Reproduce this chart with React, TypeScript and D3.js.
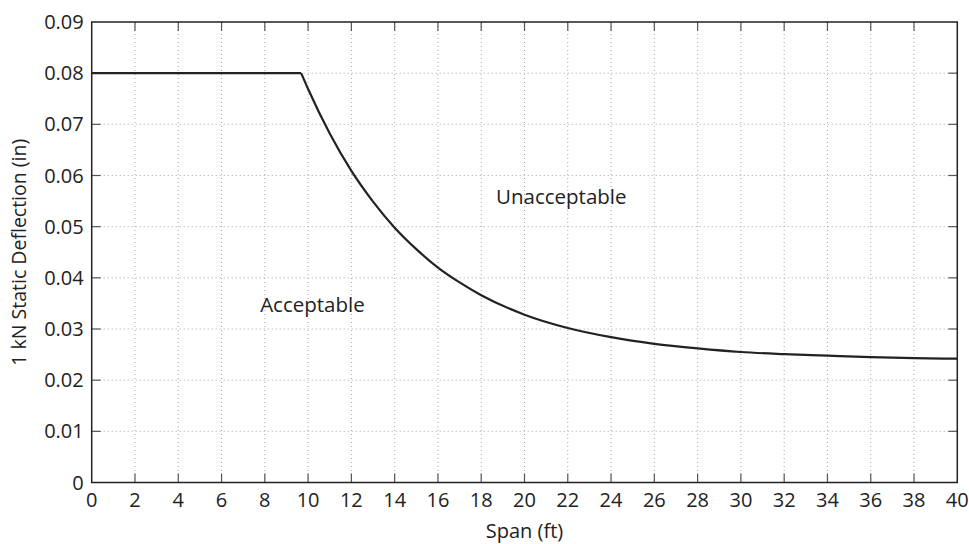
import React from "react";
import * as d3 from "d3";

const spanFt = [0, 9.68, 10, 11, 12, 13, 14, 15, 16, 17, 18, 20, 22, 24, 26, 28, 30, 32, 34, 36, 38, 40];
const deflection = [0.08, 0.08, 0.0769, 0.0682, 0.0609, 0.0549, 0.0498, 0.0456, 0.042, 0.0391, 0.0366, 0.0328, 0.0302, 0.0284, 0.0271, 0.0262, 0.0255, 0.0251, 0.0248, 0.0245, 0.0243, 0.0242];
const xTicks = d3.range(0, 41, 2);
const yTicks = [0, 0.01, 0.02, 0.03, 0.04, 0.05, 0.06, 0.07, 0.08, 0.09];
const yTickLabels = ["0", "0.01", "0.02", "0.03", "0.04", "0.05", "0.06", "0.07", "0.08", "0.09"];
const regionLabels = [
  { text: "Unacceptable", x: 21.7, y: 0.0544 },
  { text: "Acceptable", x: 10.2, y: 0.0333 },
];

const W = 969;
const H = 544;
const L = 91.7, R = 957.3, T = 22, B = 482.5;
const font = "'Open Sans', sans-serif";

export default function App() {
  const x = d3.scaleLinear().domain([0, 40]).range([L, R]);
  const y = d3.scaleLinear().domain([0, 0.09]).range([B, T]);
  const pts: [number, number][] = spanFt.map((s, i) => [s, deflection[i]]);
  const flat = pts.slice(0, 2);
  const curve = pts.slice(1);
  const flatPath = d3.line<[number, number]>().x((d) => x(d[0])).y((d) => y(d[1]))(flat) || "";
  const curvePath =
    d3
      .line<[number, number]>()
      .x((d) => x(d[0]))
      .y((d) => y(d[1]))
      .curve(d3.curveMonotoneX)(curve) || "";
  const tickLen = 9;
  const gridColor = "#a8a8a8";
  const tickColor = "#555";
  return (
    <svg
      width={W}
      height={H}
      style={{ position: "absolute", left: 0, top: 0, background: "#fff" }}
    >
      {xTicks.slice(1, -1).map((t) => (
        <line key={"gx" + t} x1={x(t)} x2={x(t)} y1={T} y2={B} stroke={gridColor} strokeWidth={1} strokeDasharray="1,3" />
      ))}
      {yTicks.slice(1, -1).map((t) => (
        <line key={"gy" + t} x1={L} x2={R} y1={y(t)} y2={y(t)} stroke={gridColor} strokeWidth={1} strokeDasharray="1,3" />
      ))}
      {xTicks.slice(1, -1).map((t) => (
        <g key={"tx" + t}>
          <line x1={x(t)} x2={x(t)} y1={B} y2={B - tickLen} stroke={tickColor} strokeWidth={1.2} />
          <line x1={x(t)} x2={x(t)} y1={T} y2={T + tickLen} stroke={tickColor} strokeWidth={1.2} />
        </g>
      ))}
      {yTicks.slice(1, -1).map((t) => (
        <g key={"ty" + t}>
          <line x1={L} x2={L + tickLen} y1={y(t)} y2={y(t)} stroke={tickColor} strokeWidth={1.2} />
          <line x1={R} x2={R - tickLen} y1={y(t)} y2={y(t)} stroke={tickColor} strokeWidth={1.2} />
        </g>
      ))}
      <path d={flatPath} fill="none" stroke="#222" strokeWidth={2.2} />
      <path d={curvePath} fill="none" stroke="#222" strokeWidth={2.2} />
      <rect x={L} y={T} width={R - L} height={B - T} fill="none" stroke="#222" strokeWidth={1.5} />
      {xTicks.map((t) => (
        <text key={"lx" + t} x={x(t)} y={B + 24} textAnchor="middle" fontFamily={font} fontSize={20} fill="#222">
          {t}
        </text>
      ))}
      {yTicks.map((t, i) => (
        <text key={"ly" + t} x={L - 8} y={y(t)} dy="0.35em" textAnchor="end" fontFamily={font} fontSize={20} fill="#222">
          {yTickLabels[i]}
        </text>
      ))}
      <text x={(L + R) / 2} y={538} textAnchor="middle" fontFamily={font} fontSize={20} fill="#222">
        Span (ft)
      </text>
      <text
        transform={`translate(26, ${(T + B) / 2}) rotate(-90)`}
        textAnchor="middle"
        fontFamily={font}
        fontSize={19.5}
        fill="#222"
      >
        1 kN Static Deflection (in)
      </text>
      {regionLabels.map((r) => (
        <text key={r.text} x={x(r.x)} y={y(r.y)} textAnchor="middle" fontFamily={font} fontSize={20.5} fill="#222">
          {r.text}
        </text>
      ))}
    </svg>
  );
}
